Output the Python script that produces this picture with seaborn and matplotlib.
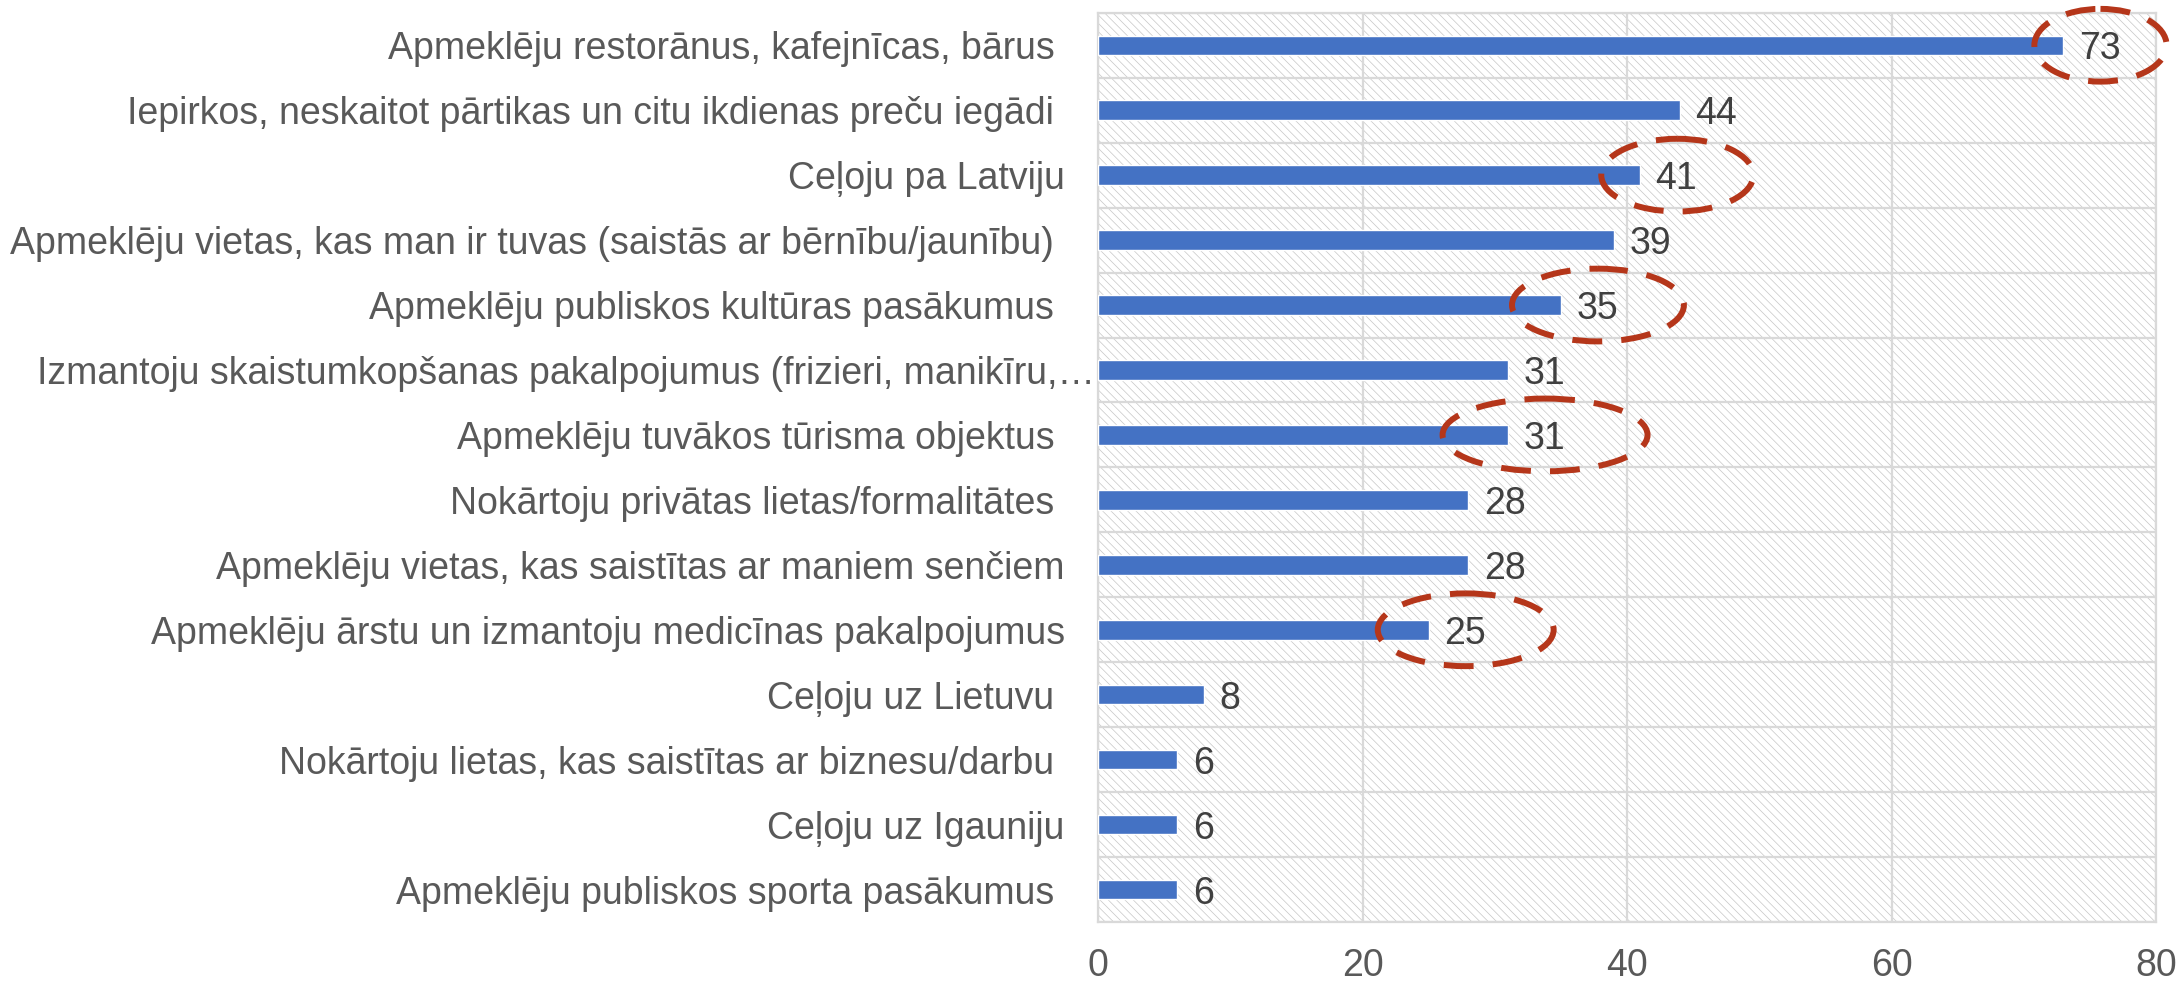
import matplotlib
matplotlib.use('Agg')
import matplotlib.pyplot as plt
import seaborn as sns
from matplotlib.patches import Ellipse, Rectangle

activities = [
    'Apmeklēju restorānus, kafejnīcas, bārus ',
    'Iepirkos, neskaitot pārtikas un citu ikdienas preču iegādi ',
    'Ceļoju pa Latviju',
    'Apmeklēju vietas, kas man ir tuvas (saistās ar bērnību/jaunību) ',
    'Apmeklēju publiskos kultūras pasākumus ',
    'Izmantoju skaistumkopšanas pakalpojumus (frizieri, manikīru,…',
    'Apmeklēju tuvākos tūrisma objektus ',
    'Nokārtoju privātas lietas/formalitātes ',
    'Apmeklēju vietas, kas saistītas ar maniem senčiem',
    'Apmeklēju ārstu un izmantoju medicīnas pakalpojumus',
    'Ceļoju uz Lietuvu ',
    'Nokārtoju lietas, kas saistītas ar biznesu/darbu ',
    'Ceļoju uz Igauniju',
    'Apmeklēju publiskos sporta pasākumus ',
]
shares = [73, 44, 41, 39, 35, 31, 31, 28, 28, 25, 8, 6, 6, 6]
x_ticks = [0, 20, 40, 60, 80]

# rows circled in red in the original
highlighted = [0, 2, 4, 6, 9]
ring_widths = [10.0, 11.5, 13.0, 15.5, 13.3]

BAR = '#4472C4'
GRID = '#D9D9D9'
TEXT = '#595959'
RING = '#B5361A'
FS = 27

sns.set_style('white')
plt.rcParams['font.family'] = ['Liberation Sans', 'DejaVu Sans']
plt.rcParams['hatch.color'] = '#C6C6C6'
plt.rcParams['hatch.linewidth'] = 0.5

fig, ax = plt.subplots(figsize=(21.8, 9.83), dpi=100)
fig.subplots_adjust(left=0.5037, right=0.989, bottom=0.062, top=0.987)

sns.barplot(x=shares, y=activities, orient='h', color=BAR, width=0.3,
            saturation=1, ax=ax, zorder=3)

ax.set_xlim(0, 80)
ax.set_ylim(len(activities) - 0.5, -0.5)
ax.set_xticks(x_ticks)
ax.set_xlabel('')
ax.set_ylabel('')

# hatched plot background
ax.add_patch(Rectangle((0, 0), 1, 1, transform=ax.transAxes, facecolor='white',
                       edgecolor='#C6C6C6', hatch='\\\\\\\\', linewidth=0, zorder=0.1))

# grid: verticals at x ticks, horizontals between categories
ax.set_axisbelow(True)
ax.set_yticks([i - 0.5 for i in range(len(activities) + 1)], minor=True)
ax.grid(axis='x', which='major', color=GRID, linewidth=1.6, zorder=0.5)
ax.grid(axis='y', which='minor', color=GRID, linewidth=1.6, zorder=0.5)
ax.grid(axis='y', which='major', visible=False)
for side, sp in ax.spines.items():
    sp.set_visible(True)
    sp.set_color(GRID)
    sp.set_linewidth(1.6)

ax.tick_params(axis='y', which='major', length=0, pad=24, labelsize=FS, labelcolor=TEXT)
ax.tick_params(axis='y', which='minor', length=8.6, width=1.6, color=GRID)
ax.tick_params(axis='x', which='major', length=0, pad=19, labelsize=FS, labelcolor=TEXT)
ax.yaxis.get_major_ticks()[5].set_pad(2)

vals = ax.bar_label(ax.containers[0], labels=[str(v) for v in shares], padding=11,
                    fontsize=FS, color='#404040', zorder=4)
for t in vals:
    t.set_va('center_baseline')

for idx, w in zip(highlighted, ring_widths):
    ax.add_patch(Ellipse((shares[idx] + 2.8, idx), width=w, height=1.12,
                         fill=False, edgecolor=RING, linewidth=4.3,
                         linestyle=(0, (5, 3.2)), clip_on=False, zorder=5))

fig.savefig('out.png', dpi=100)
